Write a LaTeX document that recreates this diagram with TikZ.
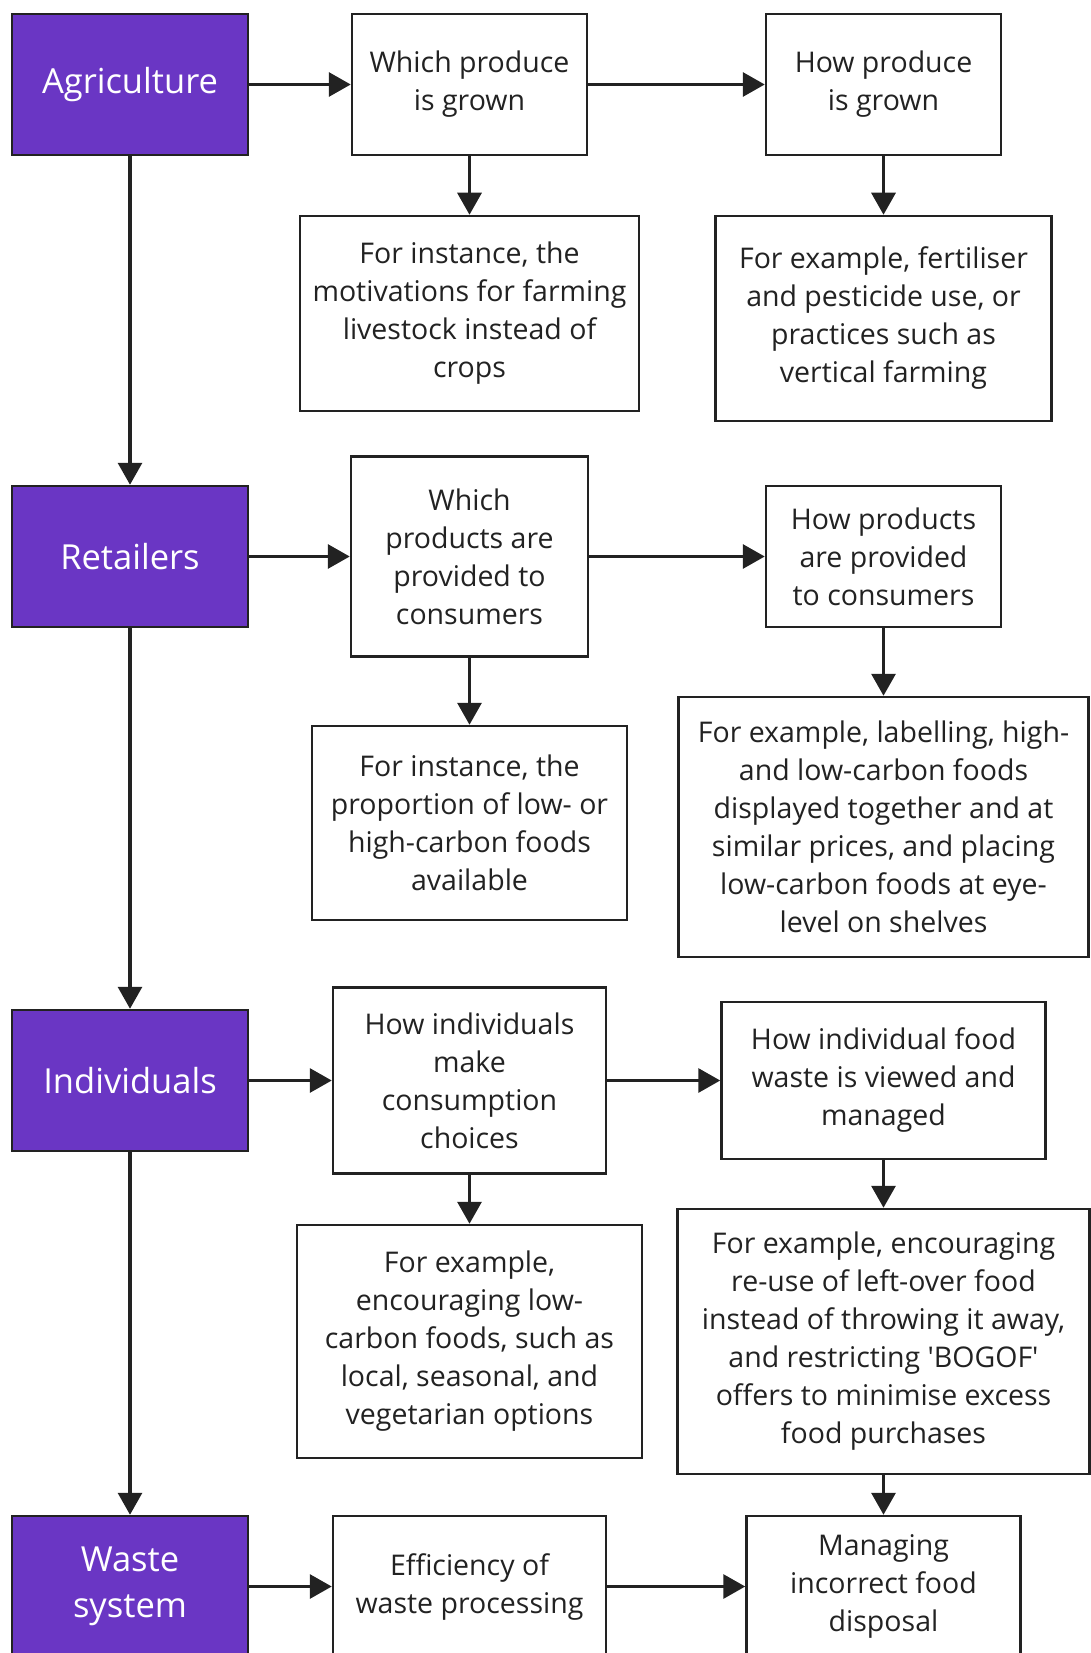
\documentclass[tikz,border=0pt]{standalone}
\usepackage{fontspec}
\setmainfont{Open Sans}[Ligatures={TeXOff,CommonOff}]
\usetikzlibrary{arrows.meta}
\definecolor{purp}{HTML}{6A36C4}
\definecolor{ink}{HTML}{222222}
\begin{document}
\begin{tikzpicture}[x=1pt,y=-1pt,
  box/.style={draw=ink,line width=2.5pt,fill=white,inner sep=0pt,align=center,
    font=\fontsize{28.5}{38}\selectfont,text=ink},
  cat/.style={draw=ink,line width=2.5pt,fill=purp,inner sep=0pt,align=center,
    font=\fontsize{34.5}{46}\selectfont,text=white,minimum width=236pt,minimum height=141pt},
  arr/.style={draw=ink,line width=3.2pt,-{Triangle[length=22pt,width=24pt]}}]
\useasboundingbox (0,0) rectangle (1091,1653);
\begin{scope}
\clip (0,0) rectangle (1091,1653);
% category boxes
\node[cat] (agr) at (130,84.5) {Agriculture};
\node[cat] (ret) at (130,556.5) {Retailers};
\node[cat] (ind) at (130,1080.5) {Individuals};
\node[cat] (was) at (130,1586.5) {Waste\\system};
% column 2
\node[box,minimum width=235pt,minimum height=141pt] (c2a) at (469.5,84.5) {Which produce\\is grown};
\node[box,minimum width=339pt,minimum height=195pt] (c2b) at (469.5,313.5) {For instance, the\\motivations for farming\\livestock instead of\\crops};
\node[box,minimum width=237pt,minimum height=200pt] (c2c) at (469.5,556.5) {Which\\products are\\provided to\\consumers};
\node[box,minimum width=315pt,minimum height=194pt] (c2d) at (469.5,823) {For instance, the\\proportion of low- or\\high-carbon foods\\available};
\node[box,minimum width=273pt,minimum height=186pt] (c2e) at (469.5,1080.5) {How individuals\\make\\consumption\\choices};
\node[box,minimum width=345pt,minimum height=233pt] (c2f) at (469.5,1341.5) {For example,\\encouraging low-\\carbon foods, such as\\local, seasonal, and\\vegetarian options};
\node[box,minimum width=273pt,minimum height=141pt] (c2g) at (469.5,1586.5) {Efficiency of\\waste processing};
% column 3
\node[box,minimum width=235pt,minimum height=141pt] (c3a) at (883.5,84.5) {How produce\\is grown};
\node[box,minimum width=336pt,minimum height=205pt] (c3b) at (883.5,318.5) {For example, fertiliser\\and pesticide use, or\\practices such as\\vertical farming};
\node[box,minimum width=235pt,minimum height=141pt] (c3c) at (883.5,556.5) {How products\\are provided\\to consumers};
\node[box,minimum width=410pt,minimum height=260pt] (c3d) at (883.5,827) {For example, labelling, high-\\and low-carbon foods\\displayed together and at\\similar prices, and placing\\low-carbon foods at eye-\\level on shelves};
\node[box,minimum width=324pt,minimum height=157pt] (c3e) at (883.5,1080.5) {How individual food\\waste is viewed and\\managed};
\node[box,minimum width=412pt,minimum height=265pt] (c3f) at (883.5,1341.5) {For example, encouraging\\re-use of left-over food\\instead of throwing it away,\\and restricting 'BOGOF'\\offers to minimise excess\\food purchases};
\node[box,minimum width=274pt,minimum height=141pt] (c3g) at (883.5,1586.5) {Managing\\incorrect food\\disposal};
% arrows
\draw[arr] (agr) -- (c2a);
\draw[arr] (c2a) -- (c3a);
\draw[arr] (ret) -- (c2c);
\draw[arr] (c2c) -- (c3c);
\draw[arr] (ind) -- (c2e);
\draw[arr] (c2e) -- (c3e);
\draw[arr] (was) -- (c2g);
\draw[arr] (c2g) -- (c3g);
\draw[arr] (agr) -- (ret);
\draw[arr] (ret) -- (ind);
\draw[arr] (ind) -- (was);
\draw[arr] (c2a) -- (c2b);
\draw[arr] (c2c) -- (c2d);
\draw[arr] (c2e) -- (c2f);
\draw[arr] (c3a) -- (c3b);
\draw[arr] (c3c) -- (c3d);
\draw[arr] (c3e) -- (c3f);
\draw[arr] (c3f) -- (c3g);
\end{scope}
\end{tikzpicture}
\end{document}
